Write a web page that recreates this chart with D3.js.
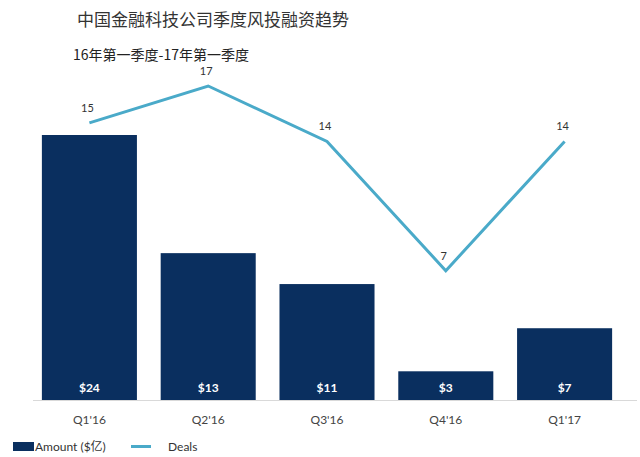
<!DOCTYPE html>
<meta charset="utf-8">
<style>
body { margin: 0; background: #fff; }
.title { font: 17px "Noto Sans CJK SC", sans-serif; fill: #333; }
.subtitle { font: 14px "Noto Sans CJK SC", sans-serif; fill: #222; }
.tick-label { font: 12px Lato, sans-serif; fill: #444; }
.bar-label { font: bold 12px Lato, sans-serif; fill: #fff; }
.deal-label { font: 11px Lato, sans-serif; fill: #333; }
.legend text { font: 12px Lato, "Noto Sans CJK SC", sans-serif; fill: #333; }
</style>
<body>
<div id="chart"></div>
<script src="https://cdn.jsdelivr.net/npm/d3@7"></script>
<script>
var quarters = ["Q1'16", "Q2'16", "Q3'16", "Q4'16", "Q1'17"];
var amounts = [24, 13.3, 10.5, 2.6, 6.5];
var deals = [15, 17, 14, 7, 14];

var width = 640, height = 457,
    baseY = 400;

var svg = d3.select("#chart").append("svg")
    .attr("width", width)
    .attr("height", height);

svg.append("text").attr("class", "title")
    .attr("x", 77).attr("y", 26)
    .text("中国金融科技公司季度风投融资趋势");
svg.append("text").attr("class", "subtitle")
    .attr("x", 73).attr("y", 60)
    .text("16年第一季度-17年第一季度");

var x = d3.scaleBand().domain(quarters).range([30, 624])
    .paddingInner(0.2).paddingOuter(0.1);
var yBar = d3.scaleLinear().domain([0, 24]).range([baseY, 135]);
var yLine = d3.scaleLinear().domain([0, 17]).range([baseY, 86]);

// baseline
svg.append("line")
    .attr("x1", 33).attr("x2", 637)
    .attr("y1", baseY + 0.5).attr("y2", baseY + 0.5)
    .attr("stroke", "#d9d9d9");

svg.selectAll(".bar")
    .data(amounts)
  .enter().append("rect")
    .attr("class", "bar")
    .attr("x", function(d, i) { return x(quarters[i]); })
    .attr("y", function(d) { return yBar(d); })
    .attr("width", x.bandwidth())
    .attr("height", function(d) { return baseY - yBar(d); })
    .attr("fill", "#0a2f5f");

svg.selectAll(".bar-label")
    .data(amounts)
  .enter().append("text")
    .attr("class", "bar-label")
    .attr("x", function(d, i) { return x(quarters[i]) + x.bandwidth() / 2; })
    .attr("y", 392)
    .attr("text-anchor", "middle")
    .text(function(d) { return "$" + Math.round(d); });

var line = d3.line()
    .x(function(d, i) { return x(quarters[i]) + x.bandwidth() / 2; })
    .y(function(d) { return yLine(d); });

svg.append("path")
    .datum(deals)
    .attr("d", line)
    .attr("fill", "none")
    .attr("stroke", "#4aaac9")
    .attr("stroke-width", 3);

svg.selectAll(".deal-label")
    .data(deals)
  .enter().append("text")
    .attr("class", "deal-label")
    .attr("x", function(d, i) { return x(quarters[i]) + x.bandwidth() / 2 - 2; })
    .attr("y", function(d) { return yLine(d) - 11; })
    .attr("text-anchor", "middle")
    .text(function(d) { return d; });

svg.selectAll(".tick-label")
    .data(quarters)
  .enter().append("text")
    .attr("class", "tick-label")
    .attr("x", function(d) { return x(d) + x.bandwidth() / 2; })
    .attr("y", 424)
    .attr("text-anchor", "middle")
    .text(function(d) { return d; });

var legend = svg.append("g").attr("class", "legend");
legend.append("rect")
    .attr("x", 13).attr("y", 442).attr("width", 21).attr("height", 9)
    .attr("fill", "#0a2f5f");
legend.append("text").attr("x", 35).attr("y", 451).text("Amount ($亿)");
legend.append("line")
    .attr("x1", 131).attr("x2", 151).attr("y1", 446.5).attr("y2", 446.5)
    .attr("stroke", "#4aaac9").attr("stroke-width", 3);
legend.append("text").attr("x", 168).attr("y", 451).text("Deals");
</script>
